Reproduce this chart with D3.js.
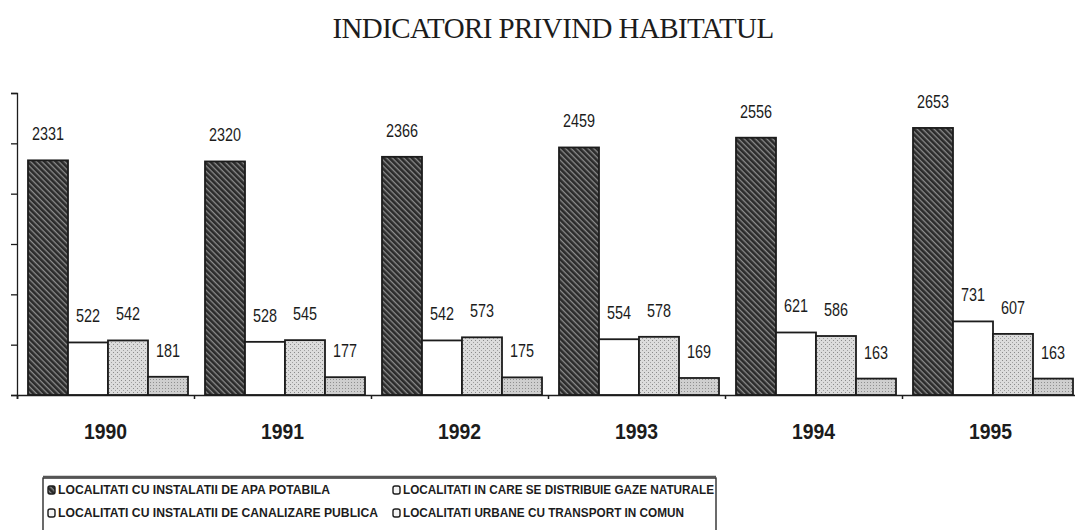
<!DOCTYPE html>
<html>
<head>
<meta charset="utf-8">
<script src="https://cdn.jsdelivr.net/npm/d3@7"></script>
<style>
  html, body { margin: 0; padding: 0; background: #fff; }
  svg { display: block; }
</style>
</head>
<body>
<svg id="chart" width="1075" height="530"></svg>
<script>
(function() {

  // Data
  const years = ["1990", "1991", "1992", "1993", "1994", "1995"];
  const apaPotabila = [2331, 2320, 2366, 2459, 2556, 2653];
  const canalizare = [522, 528, 542, 554, 621, 731];
  const gazeNaturale = [542, 545, 573, 578, 586, 607];
  const transportComun = [181, 177, 175, 169, 163, 163];
  const yTicks = [0, 500, 1000, 1500, 2000, 2500, 3000];

  const seriesNames = [
    "LOCALITATI CU INSTALATII DE APA POTABILA",
    "LOCALITATI CU INSTALATII DE CANALIZARE PUBLICA",
    "LOCALITATI IN CARE SE DISTRIBUIE GAZE NATURALE",
    "LOCALITATI  URBANE CU TRANSPORT IN COMUN"
  ];
  const seriesValues = [apaPotabila, canalizare, gazeNaturale, transportComun];
  const seriesKeys = ["apa", "canal", "gaze", "transport"];

  const INK = "#1c1c1c";
  const SANS = "'Liberation Sans', Arial, sans-serif";

  const svg = d3.select("#chart");
  const defs = svg.append("defs");

  // Fill patterns imitating the print hatching
  const hatch = defs.append("pattern")
    .attr("id", "p-apa")
    .attr("patternUnits", "userSpaceOnUse")
    .attr("width", 4).attr("height", 4)
    .attr("patternTransform", "rotate(45)");
  hatch.append("rect").attr("width", 4).attr("height", 4).attr("fill", "#2b2b2b");
  hatch.append("rect").attr("width", 4).attr("height", 1.3).attr("fill", "#8c8c8c");

  const gaze = defs.append("pattern")
    .attr("id", "p-gaze")
    .attr("patternUnits", "userSpaceOnUse")
    .attr("width", 4).attr("height", 4);
  gaze.append("rect").attr("width", 4).attr("height", 4).attr("fill", "#dcdcdc");
  gaze.append("rect").attr("x", 0).attr("y", 0).attr("width", 1).attr("height", 1).attr("fill", "#8a8a8a");
  gaze.append("rect").attr("x", 2).attr("y", 2).attr("width", 1).attr("height", 1).attr("fill", "#a0a0a0");

  const transp = defs.append("pattern")
    .attr("id", "p-transport")
    .attr("patternUnits", "userSpaceOnUse")
    .attr("width", 3).attr("height", 3);
  transp.append("rect").attr("width", 3).attr("height", 3).attr("fill", "#cfcfcf");
  transp.append("rect").attr("x", 1).attr("y", 1).attr("width", 1).attr("height", 1).attr("fill", "#8f8f8f");

  const fills = {
    apa: "url(#p-apa)",
    canal: "#ffffff",
    gaze: "url(#p-gaze)",
    transport: "url(#p-transport)"
  };

  // Title
  svg.append("text")
    .attr("x", 553).attr("y", 38)
    .attr("text-anchor", "middle")
    .attr("font-family", "'Liberation Serif', 'Times New Roman', serif")
    .attr("font-size", 29)
    .attr("letter-spacing", -0.6)
    .attr("fill", INK)
    .text("INDICATORI PRIVIND HABITATUL");

  // Scales
  const left = 17, groupW = 177, base = 395, top = 93;
  const x0 = d3.scaleBand().domain(years).range([left, left + groupW * years.length]).padding(0);
  const x1 = d3.scaleBand().domain(seriesKeys).range([11, 171]).padding(0);
  const y = d3.scaleLinear().domain([0, 3000]).range([base, top]);
  const xEdge = d3.scaleLinear().domain([0, years.length]).range([left, left + groupW * years.length]);

  // Axes (no tick labels in the scan)
  const yAxis = svg.append("g")
    .attr("transform", `translate(${left},0)`)
    .call(d3.axisLeft(y).tickValues(yTicks).tickSize(6).tickFormat(""));
  yAxis.selectAll("path, line").attr("stroke", INK).attr("stroke-width", 1.3);

  // Bars
  const groups = svg.append("g").selectAll("g")
    .data(years)
    .join("g")
    .attr("transform", d => `translate(${x0(d)},0)`);

  groups.each(function(year, yi) {
    const g = d3.select(this);
    seriesKeys.forEach((key, si) => {
      const v = seriesValues[si][yi];
      g.append("rect")
        .attr("x", x1(key))
        .attr("y", y(v))
        .attr("width", x1.bandwidth())
        .attr("height", base - y(v))
        .attr("fill", fills[key])
        .attr("stroke", INK)
        .attr("stroke-width", 1.8);

      // condensed value label (narrow font is not installed, so squeeze it)
      g.append("text")
        .attr("transform", `translate(${x1(key) + x1.bandwidth() / 2},${y(v) - 20}) scale(0.8,1)`)
        .attr("text-anchor", "middle")
        .attr("font-family", SANS)
        .attr("font-size", 18)
        .attr("fill", INK)
        .text(v);
    });
  });

  const xAxis = svg.append("g")
    .attr("transform", `translate(0,${base})`)
    .call(d3.axisBottom(xEdge).ticks(years.length).tickSize(4).tickFormat(""));
  xAxis.selectAll("path, line").attr("stroke", INK).attr("stroke-width", 1.5);

  // Year labels
  svg.append("g").selectAll("text")
    .data(years)
    .join("text")
    .attr("transform", d => `translate(${x0(d) + x0.bandwidth() / 2},439) scale(0.88,1)`)
    .attr("text-anchor", "middle")
    .attr("font-family", SANS)
    .attr("font-weight", "bold")
    .attr("font-size", 22)
    .attr("fill", INK)
    .text(d => d);

  // Legend (two columns, cut off at the bottom like the scan)
  const legend = svg.append("g");
  legend.append("rect")
    .attr("x", 43).attr("y", 478)
    .attr("width", 673).attr("height", 70)
    .attr("fill", "#fff")
    .attr("stroke", INK)
    .attr("stroke-width", 1.3);
  legend.append("line")
    .attr("x1", 43).attr("x2", 716)
    .attr("y1", 477).attr("y2", 477)
    .attr("stroke", "#555")
    .attr("stroke-width", 2.5);

  const legendPos = [
    { x: 48, y: 494, w: 272 },
    { x: 48, y: 517, w: 320 },
    { x: 393, y: 494, w: 311 },
    { x: 393, y: 517, w: 281 }
  ];

  seriesKeys.forEach((key, i) => {
    const p = legendPos[i];
    legend.append("rect")
      .attr("x", p.x).attr("y", p.y - 8)
      .attr("width", 7).attr("height", 8)
      .attr("rx", 2)
      .attr("fill", i === 0 ? fills[key] : "#f4f4f4")
      .attr("stroke", INK)
      .attr("stroke-width", 1.4);
    legend.append("text")
      .attr("x", p.x + 10).attr("y", p.y)
      .attr("font-family", SANS)
      .attr("font-weight", "bold")
      .attr("font-size", 12.5)
      .attr("textLength", p.w)
      .attr("lengthAdjust", "spacingAndGlyphs")
      .attr("fill", INK)
      .text(seriesNames[i]);
  });

})();
</script>
</body>
</html>
